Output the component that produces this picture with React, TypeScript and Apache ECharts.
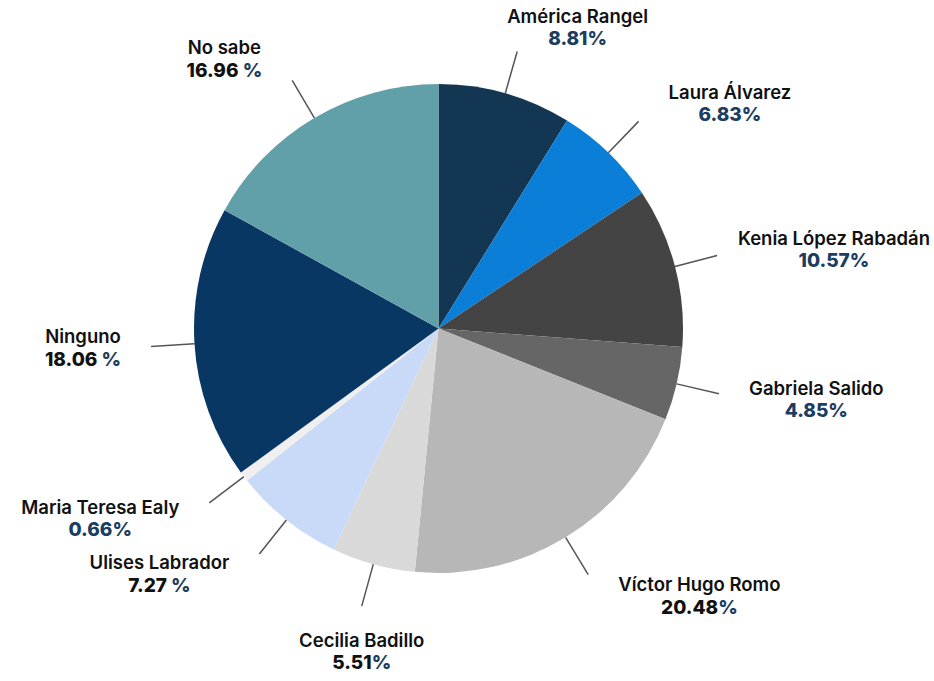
import React, { useEffect, useRef } from "react";
import * as echarts from "echarts";

// ---- data ----
const names = [
  "América Rangel",
  "Laura Álvarez",
  "Kenia López Rabadán",
  "Gabriela Salido",
  "Víctor Hugo Romo",
  "Cecilia Badillo",
  "Ulises Labrador",
  "Maria Teresa Ealy",
  "Ninguno",
  "No sabe",
];
const shares = [8.81, 6.83, 10.57, 4.85, 20.48, 5.51, 7.27, 0.66, 18.06, 16.96];

// ---- styling ----
const sliceColors = [
  "#133653",
  "#0b7fd7",
  "#444444",
  "#666666",
  "#b7b7b7",
  "#d9d9d9",
  "#c9daf8",
  "#efefef",
  "#083763",
  "#62a0a9",
];
const darkNumberLabels = new Set(["Víctor Hugo Romo", "Cecilia Badillo", "Ulises Labrador", "Ninguno", "No sabe"]);
const spacedPercentLabels = new Set(["Ulises Labrador", "Ninguno", "No sabe"]);

const WIDTH = 934;
const HEIGHT = 681;
const PIE_CX = 438.5;
const PIE_CY = 328.5;
const PIE_R = 244.5;
const LINE_R = 288; // where leader lines stop
const LABEL_GAP = 30; // horizontal gap between leader end and label
const LABEL_DROP = 25; // vertical push of the label along the leader direction
const BELOW_GAP = 24; // gap under a leader that points straight down

const clamp = (v: number, lo: number, hi: number) => Math.max(lo, Math.min(hi, v));

export default function App() {
  const ref = useRef<HTMLDivElement>(null);
  useEffect(() => {
    if (!ref.current) return;
    const chart = echarts.init(ref.current, undefined, { renderer: "svg" });
    const valueStyle = {
      fontFamily: "Inter",
      fontSize: 19,
      fontWeight: 800,
      lineHeight: 23,
    };
    chart.setOption({
      animation: false,
      backgroundColor: "#ffffff",
      series: [
        {
          type: "pie",
          center: [PIE_CX, PIE_CY],
          radius: PIE_R,
          startAngle: 90,
          clockwise: true,
          avoidLabelOverlap: false,
          color: sliceColors,
          itemStyle: { borderWidth: 0 },
          data: names.map((n, i) => ({ name: n, value: shares[i] })),
          label: {
            show: true,
            position: "outside",
            fontFamily: "Inter",
            fontSize: 19,
            fontWeight: 800,
            color: "#111111",
            formatter: (p: any) => {
              const v = Number(p.value).toFixed(2);
              if (darkNumberLabels.has(p.name)) {
                const gap = spacedPercentLabels.has(p.name) ? " " : "";
                return `{nm|${p.name}}\n{n|${v}}${gap}{pc|%}`;
              }
              return `{nm|${p.name}}\n{v|${v}%}`;
            },
            rich: {
              nm: {
                fontFamily: "Inter",
                fontSize: 18.5,
                fontWeight: 600,
                color: "#111111",
                lineHeight: 23,
              },
              v: { ...valueStyle, color: "#1b3d5f" },
              n: { ...valueStyle, color: "#111111" },
              pc: { ...valueStyle, color: "#1b3d5f" },
            },
          },
          labelLine: {
            show: true,
            length: 48,
            length2: 0,
            smooth: false,
            lineStyle: { color: "#555555", width: 1.5 },
          },
          labelLayout: (params: any) => {
            const pts = params.labelLinePoints;
            if (!pts || pts.length < 2) return {};
            const s = pts[0];
            const m = pts[1];
            let dx = m[0] - s[0];
            let dy = m[1] - s[1];
            const len = Math.hypot(dx, dy) || 1;
            dx /= len;
            dy /= len;
            const a = params.labelRect.width / 2;
            const b = params.labelRect.height / 2;
            const ex = s[0] + dx * (LINE_R - PIE_R);
            const ey = s[1] + dy * (LINE_R - PIE_R);
            let cx: number;
            let cy: number;
            if (dy > 0 && Math.abs(dx) < 0.35) {
              // label hanging straight below the pie
              cx = ex;
              cy = ey + b + BELOW_GAP;
            } else {
              cx = ex + clamp(dx * 2.2, -1, 1) * (a + LABEL_GAP);
              cy = ey + dy * LABEL_DROP;
            }
            // keep the label inside the canvas
            cx = clamp(cx, a + 4, WIDTH - a - 4);
            cy = clamp(cy, b + 2, HEIGHT - b - 2);
            return {
              x: cx,
              y: cy,
              align: "center",
              verticalAlign: "middle",
              labelLinePoints: [
                [s[0], s[1]],
                [ex, ey],
                [ex, ey],
              ],
            };
          },
          emphasis: { disabled: true },
        },
      ],
    });
    return () => chart.dispose();
  }, []);
  return (
    <div
      ref={ref}
      style={{ position: "absolute", left: 0, top: 0, width: WIDTH, height: HEIGHT }}
    />
  );
}
